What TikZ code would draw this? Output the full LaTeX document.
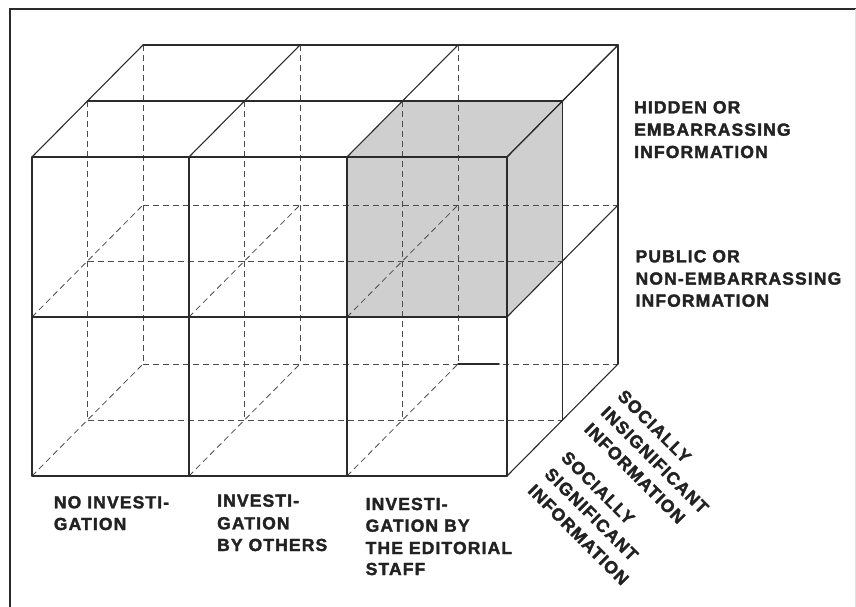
\documentclass[tikz,border=0pt]{standalone}
\usepackage{fontspec}
\usetikzlibrary{calc}
\newfontfamily\labfont{Liberation Sans}[LetterSpace=6.5,BoldFont={Liberation Sans Bold},BoldFeatures={FakeBold=2}]
\definecolor{ink}{HTML}{2B2B2B}
\definecolor{cubegray}{HTML}{CFCFCF}
\begin{document}
\begin{tikzpicture}[x=1pt,y=-1pt,
  solidline/.style={draw=ink,line width=1.1pt,line cap=round},
  hidden/.style={draw=ink!85,line width=0.8pt,dash pattern=on 6pt off 4pt},
  frameline/.style={draw=ink,line width=1.4pt},
  lbl/.style={font=\labfont\bfseries\fontsize{17.5}{22}\selectfont,text=ink!80!black,inner sep=0pt,anchor=base west},
  rlbl/.style={lbl,rotate=-45}]
\useasboundingbox (0,0) rectangle (856,607);
% frame
\draw[frameline] (10,607) -- (10,9) -- (856,9);
\draw[draw=black!12,line width=0.8pt] (855,9) -- (855,607);
% grid coordinates: p<i><j><k>
\foreach \i/\xx in {0/32,1/189,2/347,3/507}
  \foreach \j/\yy in {0/157,1/317,2/476}
    \foreach \k in {0,1,2}
      \coordinate (p\i\j\k) at ({\xx+55.5*\k},{\yy-56*\k});
% shaded cube
\fill[fill=cubegray] (p210) -- (p200) -- (p201) -- (p301) -- (p311) -- (p310) -- cycle;
% hidden edges
\foreach \k in {1,2}{
  \foreach \i in {0,1,2} \draw[hidden] (p\i0\k) -- (p\i2\k);
  \foreach \j in {1,2} \draw[hidden] (p0\j\k) -- (p3\j\k);
}
\foreach \i in {0,1,2}
  \foreach \j in {1,2}
    \draw[hidden] (p\i\j0) -- (p\i\j2);
% print artefact on the back bottom edge
\coordinate (art) at ($(p222)+(41,0)$);
\draw[solidline,line width=1.5pt] (p222) -- (art);
% visible edges: front face
\foreach \i in {0,1,2,3} \draw[solidline] (p\i00) -- (p\i20);
\foreach \j in {0,1,2} \draw[solidline] (p0\j0) -- (p3\j0);
% top face
\foreach \k in {1,2} \draw[solidline] (p00\k) -- (p30\k);
\foreach \i in {0,1,2,3} \draw[solidline] (p\i00) -- (p\i02);
% right face
\foreach \k in {1,2} \draw[solidline] (p30\k) -- (p32\k);
\foreach \j in {0,1,2} \draw[solidline] (p3\j0) -- (p3\j2);
% right labels
\node[lbl] (h1) at (634,113.3) {HIDDEN OR};
\node[lbl] (h2) at (634,135.7) {EMBARRASSING};
\node[lbl] (h3) at (634,158) {INFORMATION};
\node[lbl] (u1) at (635.4,262.3) {PUBLIC OR};
\node[lbl] (u2) at (635.4,284.6) {NON-EMBARRASSING};
\node[lbl] (u3) at (635.4,306.7) {INFORMATION};
% bottom labels
\node[lbl] (a1) at (53.7,508.3) {NO INVESTI-};
\node[lbl] (a2) at (53.7,530) {GATION};
\node[lbl] (b1) at (217,506.7) {INVESTI-};
\node[lbl] (b2) at (217,529.3) {GATION};
\node[lbl] (b3) at (217,551) {BY OTHERS};
\node[lbl] (c1) at (365.5,510) {INVESTI-};
\node[lbl] (c2) at (365.5,531.7) {GATION BY};
\node[lbl] (c3) at (365.5,554) {THE EDITORIAL};
\node[lbl] (c4) at (365.5,575) {STAFF};
% rotated labels
\node[rlbl] (s1) at (616.5,397.0) {SOCIALLY};
\node[rlbl] (s2) at (599.9,413.6) {INSIGNIFICANT};
\node[rlbl] (s3) at (583.3,430.2) {INFORMATION};
\node[rlbl] (t1) at (560.1,458.4) {SOCIALLY};
\node[rlbl] (t2) at (543.5,475.0) {SIGNIFICANT};
\node[rlbl] (t3) at (526.9,491.6) {INFORMATION};
\end{tikzpicture}
\end{document}
